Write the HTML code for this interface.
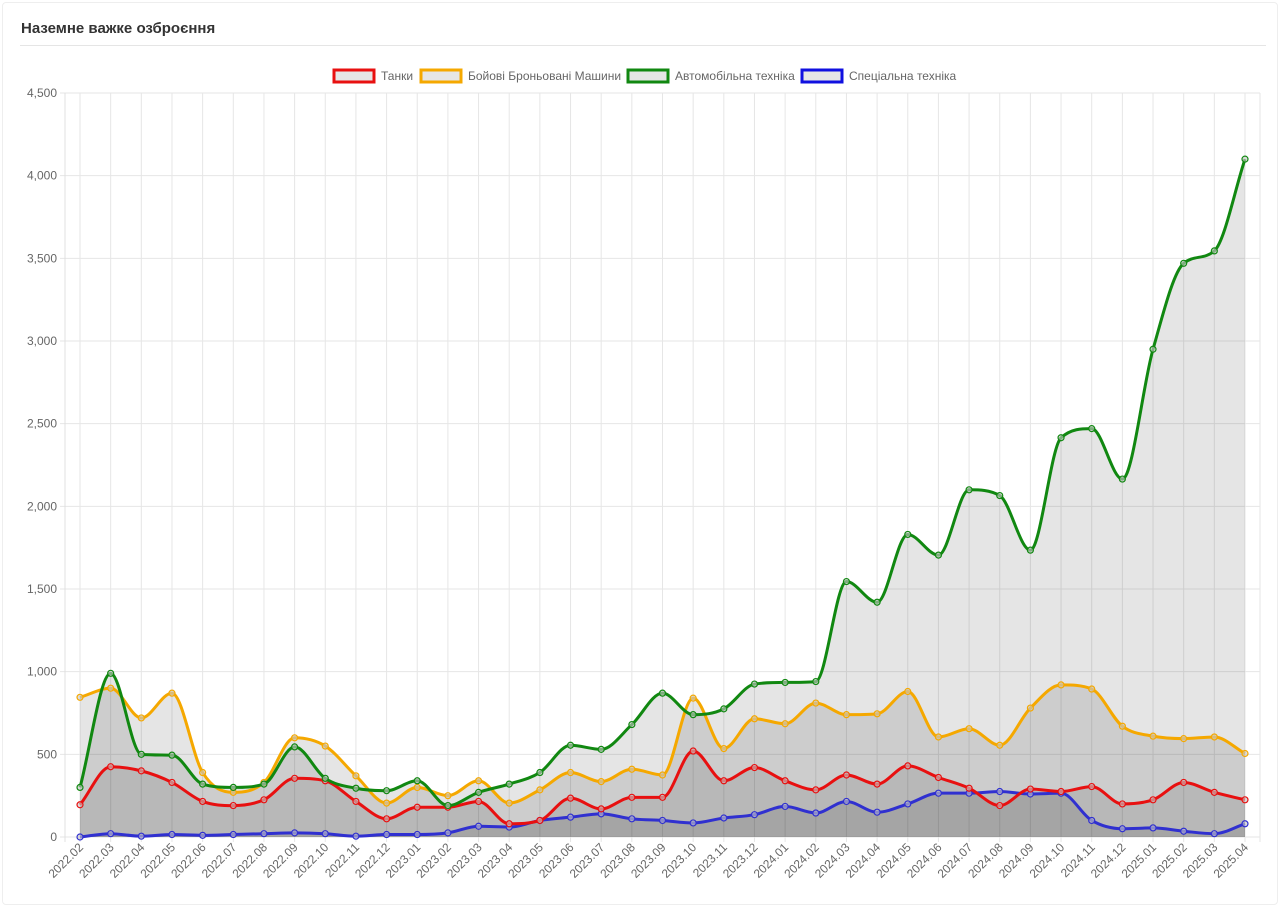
<!DOCTYPE html>
<html><head><meta charset="utf-8"><style>
body{margin:0;background:#fff;width:1280px;height:907px;overflow:hidden;font-family:"Liberation Sans",sans-serif}
.card{position:absolute;left:2px;top:2px;width:1274px;height:901px;border:1px solid #eee;border-radius:4px}
h1{position:absolute;left:21px;top:20px;margin:0;font-size:15px;font-weight:bold;color:#333}
.hr{position:absolute;left:20px;top:45px;width:1246px;border-top:1px solid #e5e5e5}
</style></head><body>
<div class="card"></div>
<h1>Наземне важке озброєння</h1><div class="hr"></div>
<svg id="s" width="1280" height="907" style="position:absolute;left:0;top:0"></svg>
<script>
const G=[300,990,500,495,320,300,320,545,355,295,280,340,190,270,320,390,555,530,680,870,740,775,925,935,940,1545,1420,1830,1705,2100,2065,1735,2415,2470,2165,2950,3470,3545,4100];
const O=[845,900,720,870,390,270,330,600,550,370,205,300,250,340,205,285,390,335,410,375,840,535,715,685,810,740,745,880,605,655,555,780,920,895,670,610,595,605,505];
const R=[195,425,400,330,215,190,225,355,340,215,110,180,180,215,80,100,235,170,240,240,520,340,420,340,285,375,320,430,360,295,190,290,275,305,200,225,330,270,225];
const B=[0,20,5,15,10,15,20,25,20,5,15,15,25,65,60,100,120,140,110,100,85,115,135,185,145,215,150,200,265,265,275,260,265,100,50,55,35,20,80];
const labels=[];for(let y=2022;y<=2025;y++)for(let m=1;m<=12;m++){if((y==2022&&m<2)||(y==2025&&m>4))continue;labels.push(y+'.'+String(m).padStart(2,'0'))}
const X=i=>80+i*(1245-80)/38, Y=v=>837-v*(837-93)/4500;
let h='';
for(let k=0;k<=9;k++){const y=Y(k*500);h+=`<line x1="60" x2="1260" y1="${y}" y2="${y}" stroke="#e6e6e6"/><text x="57" y="${y+4}" text-anchor="end" font-size="12" fill="#666">${(k*500).toLocaleString('en-US')}</text>`}
h+=`<line x1="65" x2="65" y1="93" y2="842" stroke="#e0e0e0"/><line x1="1260" x2="1260" y1="93" y2="842" stroke="#e6e6e6"/>`;
labels.forEach((l,i)=>{const x=X(i);h+=`<line x1="${x}" x2="${x}" y1="93" y2="842" stroke="#e6e6e6"/><text transform="translate(${x+4},${848}) rotate(-45)" text-anchor="end" font-size="12" fill="#666">${l}</text>`});
function path(d){const p=d.map((v,i)=>[X(i),Y(v)]);const n=p.length;
const dl=[],m=[];for(let i=0;i<n-1;i++)dl.push((p[i+1][1]-p[i][1])/(p[i+1][0]-p[i][0]));
for(let i=0;i<n;i++){if(i==0)m.push(dl[0]);else if(i==n-1)m.push(dl[n-2]);else if(dl[i-1]*dl[i]<=0)m.push(0);else m.push((dl[i-1]+dl[i])/2)}
for(let i=0;i<n-1;i++){if(dl[i]==0){m[i]=m[i+1]=0;continue}const a=m[i]/dl[i],b=m[i+1]/dl[i],s=a*a+b*b;if(s>9){const t=3/Math.sqrt(s);m[i]=t*a*dl[i];m[i+1]=t*b*dl[i]}}
let s=`M${p[0][0]},${p[0][1]}`;
for(let i=0;i<n-1;i++){const dx=(p[i+1][0]-p[i][0])/3;s+=` C${p[i][0]+dx},${p[i][1]+m[i]*dx} ${p[i+1][0]-dx},${p[i+1][1]-m[i+1]*dx} ${p[i+1][0]},${p[i+1][1]}`}return s}
const S=[[G,'#118811'],[O,'#f5a800'],[R,'#e81010'],[B,'#3030d0']];
S.forEach(([d])=>{h+=`<path d="${path(d)} L${X(38)},837 L${X(0)},837Z" fill="rgba(0,0,0,0.1)"/>`});
S.slice().reverse().forEach(([d,c])=>{h+=`<path d="${path(d)}" fill="none" stroke="${c}" stroke-width="3"/>`;d.forEach((v,i)=>h+=`<circle cx="${X(i)}" cy="${Y(v)}" r="3" fill="rgba(200,200,200,0.6)" stroke="${c}" stroke-width="1.2"/>`)});
const L=[['Танки','#e81010',334],['Бойові Броньовані Машини','#f5a800',421],['Автомобільна техніка','#118811',628],['Спеціальна техніка','#1010e0',802]];
L.forEach(([t,c,x])=>{h+=`<rect x="${x}" y="70" width="40" height="12" fill="#e6e6e6" stroke="${c}" stroke-width="3"/><text x="${x+47}" y="80" font-size="12" fill="#666">${t}</text>`});
document.getElementById('s').innerHTML=h;
</script>
</body></html>
